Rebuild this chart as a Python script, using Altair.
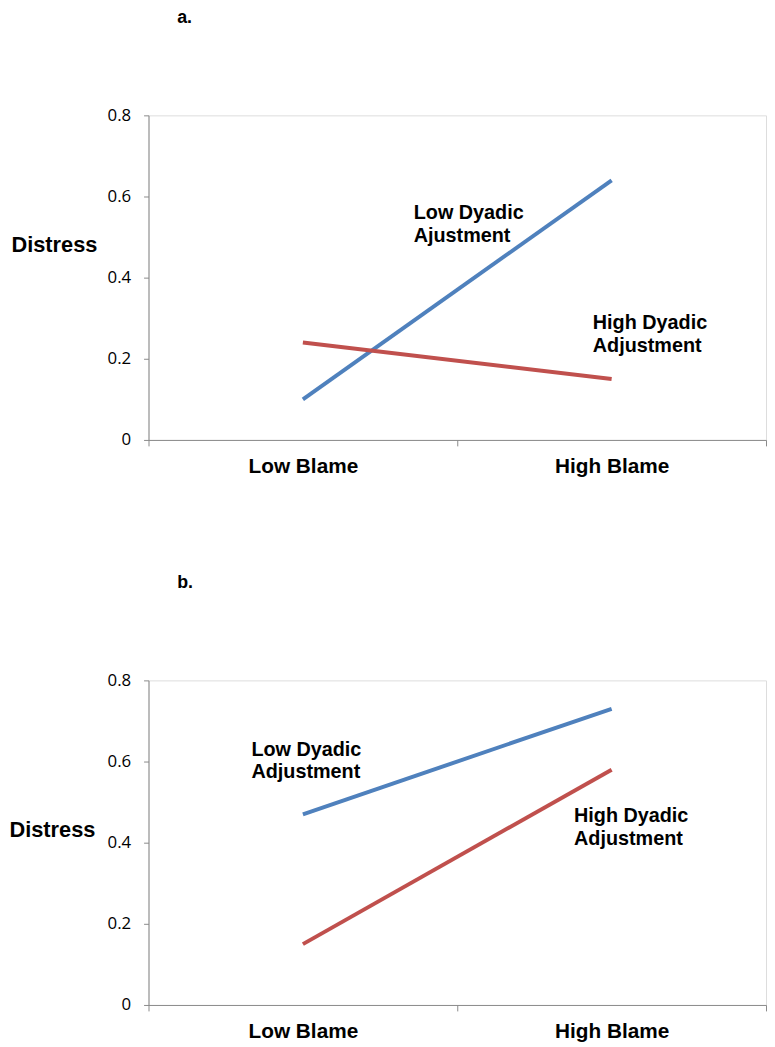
import altair as alt
import pandas as pd

# ---- data ----
blame = ["Low Blame", "High Blame"]
groups = ["Low Dyadic Adjustment", "High Dyadic Adjustment"]
a_low_dyadic = [0.10, 0.64]
a_high_dyadic = [0.24, 0.15]
b_low_dyadic = [0.47, 0.73]
b_high_dyadic = [0.15, 0.58]
y_ticks = [0, 0.2, 0.4, 0.6, 0.8]
a_notes = ["Low Dyadic\nAjustment", "High Dyadic\nAdjustment"]
b_notes = ["Low Dyadic\nAdjustment", "High Dyadic\nAdjustment"]

BLUE = "#4F81BD"
RED = "#C0504D"
AXIS_GRAY = "#8A8A8A"
BOLD_FONT = "Liberation Sans"
TICK_FONT = "Open Sans"

W, H = 624, 328


def panel(letter, low, high, notes, note_pos, dist_x, dist_y):
    df = pd.DataFrame({
        "blame": blame + blame,
        "distress": list(low) + list(high),
        "group": [groups[0]] * 2 + [groups[1]] * 2,
    })
    x = alt.X(
        "blame:N", sort=blame,
        scale=alt.Scale(type="band", paddingInner=0, paddingOuter=0),
        axis=alt.Axis(
            title=None, labelAngle=0, tickBand="extent", grid=False,
            domainColor=AXIS_GRAY, tickColor=AXIS_GRAY, tickSize=6,
            labelFont=BOLD_FONT, labelFontWeight="bold", labelFontSize=21,
            labelColor="#000000", labelPadding=10,
        ),
    )
    y = alt.Y(
        "distress:Q",
        scale=alt.Scale(domain=[0, 0.8], nice=False, zero=True),
        axis=alt.Axis(
            values=y_ticks, grid=False,
            labelExpr="datum.value == 0 ? '0' : format(datum.value, '.1f')",
            domainColor=AXIS_GRAY, tickColor=AXIS_GRAY, tickSize=5,
            labelFont=TICK_FONT, labelFontSize=17, labelColor="#000000",
            labelPadding=13,
            title="Distress", titleAngle=0, titleAlign="left",
            titleBaseline="alphabetic", titleX=dist_x, titleY=dist_y,
            titleFont=BOLD_FONT, titleFontWeight="bold", titleFontSize=22,
            titleColor="#000000",
        ),
    )
    lines = alt.Chart(df).mark_line(strokeWidth=4, strokeCap="butt").encode(
        x=x, y=y,
        color=alt.Color("group:N", sort=groups,
                        scale=alt.Scale(domain=groups, range=[BLUE, RED]),
                        legend=None),
    )
    layers = [lines]
    for text, (px, py) in zip(notes, note_pos):
        ndf = pd.DataFrame({"label": [text]})
        layers.append(
            alt.Chart(ndf).mark_text(
                align="left", baseline="alphabetic", lineBreak="\n",
                lineHeight=23, font=BOLD_FONT, fontWeight="bold",
                fontSize=20, color="#000000",
            ).encode(text="label:N", x=alt.value(px), y=alt.value(py))
        )
    return alt.layer(*layers).properties(
        width=W, height=H,
        title=alt.TitleParams(
            letter, anchor="start", frame="group", dx=29, offset=66,
            font=BOLD_FONT, fontWeight="bold", fontSize=18,
            baseline="alphabetic", color="#000000",
        ),
    )


pa = panel("a.", a_low_dyadic, a_high_dyadic, a_notes,
           [(268, 105), (449, 216)], -139, 138)
pb = panel("b.", b_low_dyadic, b_high_dyadic, b_notes,
           [(104, 76), (430, 143)], -141, 158)

chart = alt.vconcat(pa, pb, spacing=97).properties(
    padding={"left": 0, "top": -5, "right": 0, "bottom": 0}
).configure_view(stroke=None).configure(background="white")

chart.save("out.html", embed_options={"renderer": "svg", "actions": False})
